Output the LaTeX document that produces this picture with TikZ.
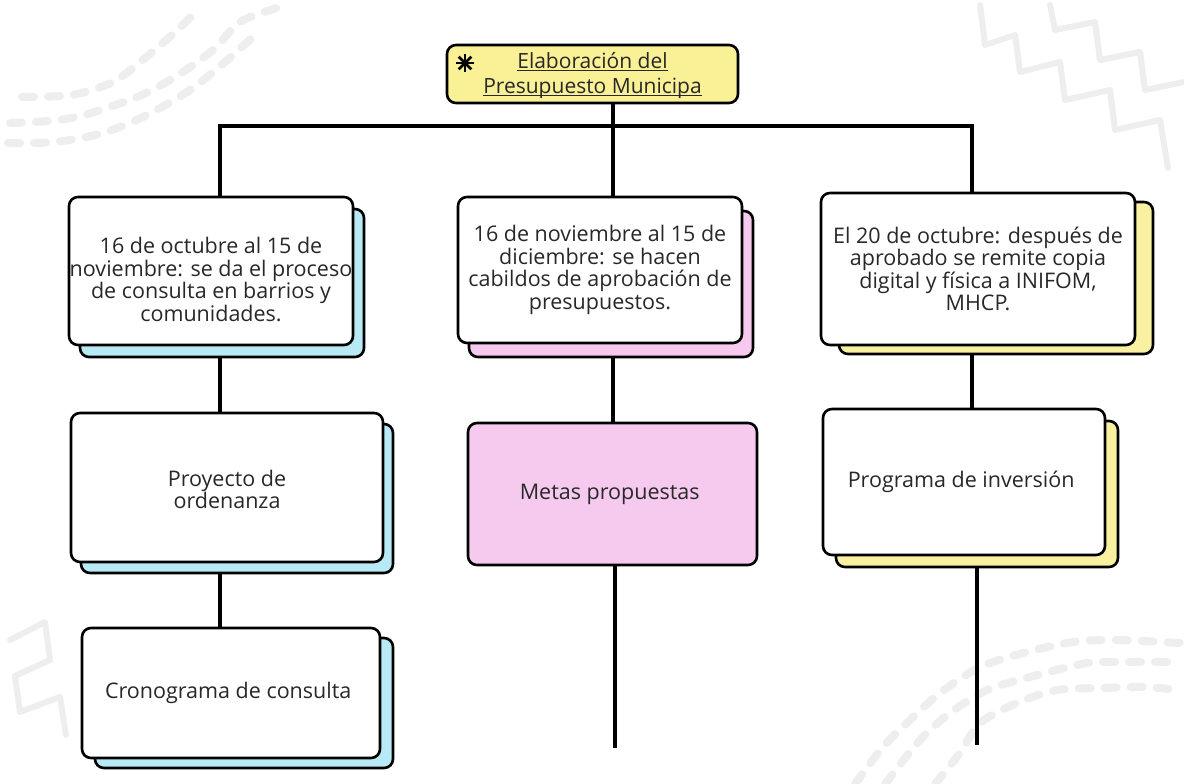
\documentclass[tikz,border=0pt]{standalone}
\usepackage{fontspec}
\setmainfont{Open Sans}
\usetikzlibrary{shadows,backgrounds}
\definecolor{cielo}{RGB}{184,234,246}
\definecolor{rosa}{RGB}{245,202,238}
\definecolor{crema}{RGB}{250,240,162}
\definecolor{amarillo}{RGB}{250,240,150}
\definecolor{fondo}{RGB}{238,238,238}
\definecolor{texto}{RGB}{40,40,40}
\newcommand{\subraya}[1]{\underline{\raisebox{0pt}[\height][0pt]{#1}}}
\tikzset{
	caja/.style={draw=black, line width=2.6pt, rounded corners=9pt, fill=white,
		align=center, text=texto, inner sep=0pt,
		font=\fontsize{21.5}{22.5}\selectfont},
	sombra/.style n args={3}{copy shadow={fill=#1, draw=black, line width=2.6pt,
		shadow xshift=#2, shadow yshift=#3}},
	enlace/.style={line width=3.6pt, black, line join=miter},
	adorno/.style={fondo, line width=8pt, line cap=round, dash pattern=on 12pt off 14pt},
	quiebre/.style={fondo, line width=6pt, line cap=round, line join=round},
}
\begin{document}
\begin{tikzpicture}[x=1pt, y=-1pt]
	\useasboundingbox (0,0) rectangle (1184,784);

	\node (titulo) at (592.5,74) [caja, fill=amarillo, minimum width=291pt, minimum height=58pt,
		font=\fontsize{21}{25}\selectfont] {
		\subraya{Elaboración del}\\ \subraya{Presupuesto Municipa}
	};
	\coordinate (estrella) at (465,63);
	\foreach \a in {0,45,90,135}
		\draw[line width=2.6pt] (estrella) ++(\a:9pt) -- ++(\a+180:18pt);

	\node (t1) at (211,271) [caja, minimum width=284pt, minimum height=148pt, sombra={cielo}{11pt}{-12pt}] {
		\rule{0pt}{33pt}16 de octubre al 15 de\\ noviembre: se da el proceso\\ de consulta en barrios y\\ comunidades.
	};
	\node (t2) at (600,270) [caja, minimum width=284pt, minimum height=146pt, sombra={rosa}{11pt}{-14pt}] {
		16 de noviembre al 15 de\\ diciembre: se hacen\\ cabildos de aprobación de\\ presupuestos.
	};
	\node (t3) at (978,269) [caja, minimum width=314pt, minimum height=152pt, sombra={crema}{18pt}{-9pt}] {
		El 20 de octubre: después de\\ aprobado se remite copia\\ digital y física a INIFOM,\\ MHCP.
	};
	\node (t4) at (227,487.5) [caja, minimum width=312pt, minimum height=149pt, sombra={cielo}{10pt}{-11pt}] {
		\rule{0pt}{20pt}Proyecto de\\ ordenanza
	};
	\node (t5) at (231,693) [caja, minimum width=298pt, minimum height=130pt, sombra={cielo}{13pt}{-10pt}] {
		Cronograma de consulta
	};
	\node (t6) at (964,482) [caja, minimum width=282pt, minimum height=146pt, sombra={crema}{13pt}{-12pt}] {
		Programa de inversión
	};
	\node (t7) at (612.5,494) [caja, fill=rosa, minimum width=289pt, minimum height=142pt] {
		Metas propuestas
	};

	\coordinate (bi) at (220,126);
	\coordinate (bc) at (613,126);
	\coordinate (bd) at (972,126);
	\coordinate (finc) at (615,748);
	\coordinate (find) at (977,745);

	\begin{scope}[on background layer]
	\fill[white] (0,0) rectangle (1184,784);
	\draw[adorno] plot[smooth] coordinates {(22,97) (72,95) (113,82) (140,62) (172,35) (200,8)};
	\draw[adorno] plot[smooth] coordinates {(10,123) (72,118) (137,97) (178,75) (213,50) (240,22) (277,8)};
	\draw[adorno] plot[smooth] coordinates {(8,143) (55,142) (103,133) (147,115) (190,90) (225,62) (255,35)};
	\draw[adorno] plot[smooth] coordinates {(855,784) (883,747) (910,720) (940,693) (980,667) (1027,652) (1073,642) (1117,640) (1180,643)};
	\draw[adorno] plot[smooth] coordinates {(885,784) (920,740) (950,713) (987,690) (1030,677) (1087,663) (1123,662) (1180,662)};
	\draw[adorno] plot[smooth] coordinates {(935,784) (960,753) (980,723) (1017,703) (1057,690) (1103,688) (1143,687) (1180,690)};
	\draw[quiebre] (980,5) -- (985,45) -- (1015,35) -- (1020,72) -- (1060,62) -- (1065,100)
		-- (1110,90) -- (1115,130) -- (1160,120) -- (1168,168);
	\draw[quiebre] (1050,5) -- (1055,30) -- (1095,22) -- (1100,60) -- (1140,52) -- (1145,90) -- (1184,82);
	\draw[quiebre] (10,640) -- (45,622) -- (50,660) -- (15,676) -- (20,712) -- (60,697) -- (66,735);
	\draw[enlace] (bc |- titulo.south) -- (bc);
	\draw[enlace] (t1.north -| bi) -- (bi) -- (bd) -- (t3.north -| bd);
	\draw[enlace] (bc) -- (t2.north -| bc);
	\draw[enlace] (t1.south -| bi) -- (t4.north -| bi);
	\draw[enlace] (t4.south -| bi) -- (t5.north -| bi);
	\draw[enlace] (t2.south -| bc) -- (t7.north -| bc);
	\draw[enlace] (t7.south -| finc) -- (finc);
	\draw[enlace] (t3.south -| bd) -- (t6.north -| bd);
	\draw[enlace] (t6.south -| find) -- (find);
	\end{scope}
\end{tikzpicture}
\end{document}
